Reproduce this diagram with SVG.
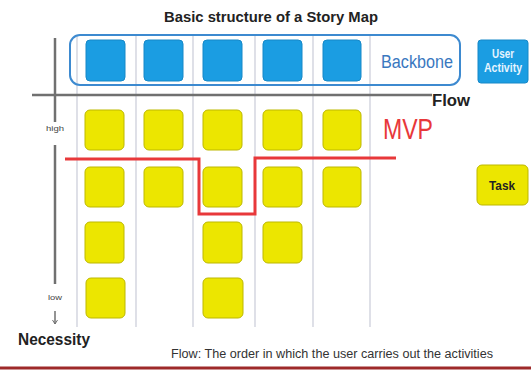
<svg xmlns="http://www.w3.org/2000/svg" width="531" height="370" viewBox="0 0 531 370">
<defs>
<style>
.t{font-family:"Liberation Sans",Arial,sans-serif}
.b{font-weight:bold}
.sep{stroke:#c9cbd8;stroke-width:1.2}
.act{fill:#1b9de2;stroke:#1688c8;stroke-width:1}
.task{fill:#ece600;stroke:#bdb800;stroke-width:1}
.axis{stroke:#707070;stroke-width:2.5;fill:none}
</style>
<marker id="ah" markerWidth="6" markerHeight="6" refX="5" refY="3" orient="auto" markerUnits="userSpaceOnUse">
<path d="M1,0.5 L5,3 L1,5.5" fill="none" stroke="#707070" stroke-width="1"/>
</marker>
</defs>
<rect width="531" height="370" fill="#ffffff"/>
<text class="t b" x="271" y="22" font-size="15" text-anchor="middle" textLength="214" lengthAdjust="spacingAndGlyphs" fill="#222">Basic structure of a Story Map</text>

<g id="separators">
<line class="sep" x1="77" y1="36" x2="77" y2="327"/>
<line class="sep" x1="136" y1="36" x2="136" y2="327"/>
<line class="sep" x1="193" y1="36" x2="193" y2="327"/>
<line class="sep" x1="255" y1="36" x2="255" y2="327"/>
<line class="sep" x1="313" y1="36" x2="313" y2="327"/>
<line class="sep" x1="370" y1="36" x2="370" y2="327"/>
</g>

<g id="backbone">
<rect x="70" y="35" width="390" height="50" rx="10" fill="none" stroke="#3d8ad0" stroke-width="2"/>
<text class="t" x="381" y="68" font-size="18" textLength="72" lengthAdjust="spacingAndGlyphs" fill="#3a78bf">Backbone</text>
</g>

<g id="activities">
<rect class="act" x="86" y="40" width="39" height="41" rx="4"/>
<rect class="act" x="144" y="40" width="39" height="41" rx="4"/>
<rect class="act" x="203" y="40" width="39" height="41" rx="4"/>
<rect class="act" x="263" y="40" width="39" height="41" rx="4"/>
<rect class="act" x="323" y="40" width="38" height="41" rx="4"/>
</g>

<g id="user-activity">
<rect class="act" x="478" y="40" width="50" height="43" rx="3"/>
<text class="t b" x="503" y="58" font-size="12" text-anchor="middle" fill="#e6f4ff" textLength="22" lengthAdjust="spacingAndGlyphs">User</text>
<text class="t b" x="503" y="72" font-size="12" text-anchor="middle" fill="#e6f4ff" textLength="38" lengthAdjust="spacingAndGlyphs">Activity</text>
</g>

<g id="axes">
<line class="axis" x1="32" y1="95" x2="432" y2="95"/>
<line class="axis" x1="55" y1="38" x2="55" y2="122"/>
<line class="axis" x1="55" y1="145" x2="55" y2="284"/>
<line x1="55" y1="311" x2="55" y2="324" stroke="#707070" stroke-width="1.5" marker-end="url(#ah)"/>
<text class="t b" x="432" y="106" font-size="16" textLength="38" lengthAdjust="spacingAndGlyphs" fill="#222">Flow</text>
<text class="t" x="55" y="131" font-size="8" text-anchor="middle" fill="#444" textLength="18" lengthAdjust="spacingAndGlyphs">high</text>
<text class="t" x="55" y="300" font-size="8" text-anchor="middle" fill="#444" textLength="14" lengthAdjust="spacingAndGlyphs">low</text>
<text class="t b" x="18" y="345" font-size="17" textLength="72" lengthAdjust="spacingAndGlyphs" fill="#222">Necessity</text>
</g>

<g id="tasks">
<rect class="task" x="85" y="110" width="39" height="40" rx="5"/>
<rect class="task" x="85" y="167" width="39" height="40" rx="5"/>
<rect class="task" x="85" y="222" width="39" height="41" rx="5"/>
<rect class="task" x="86" y="278" width="39" height="40" rx="5"/>
<rect class="task" x="144" y="110" width="39" height="40" rx="5"/>
<rect class="task" x="144" y="167" width="39" height="40" rx="5"/>
<rect class="task" x="203" y="110" width="39" height="40" rx="5"/>
<rect class="task" x="203" y="167" width="39" height="40" rx="5"/>
<rect class="task" x="203" y="222" width="39" height="41" rx="5"/>
<rect class="task" x="203" y="278" width="40" height="40" rx="5"/>
<rect class="task" x="263" y="110" width="39" height="40" rx="5"/>
<rect class="task" x="263" y="167" width="39" height="40" rx="5"/>
<rect class="task" x="263" y="222" width="39" height="41" rx="5"/>
<rect class="task" x="323" y="110" width="38" height="40" rx="5"/>
<rect class="task" x="323" y="167" width="38" height="40" rx="5"/>
</g>

<g id="mvp">
<polyline points="65,159 199,159 199,214 255,214 255,158 396,158" fill="none" stroke="#e8383a" stroke-width="3"/>
<text class="t" x="383" y="139" font-size="29" textLength="50" lengthAdjust="spacingAndGlyphs" fill="#e8383a">MVP</text>
</g>

<g id="task-legend">
<rect class="task" x="477" y="165" width="51" height="40" rx="5"/>
<text class="t b" x="502" y="190" font-size="12" text-anchor="middle" fill="#222" textLength="26" lengthAdjust="spacingAndGlyphs">Task</text>
</g>

<text class="t" x="171" y="358" font-size="12.5" textLength="322" lengthAdjust="spacingAndGlyphs" fill="#333">Flow: The order in which the user carries out the activities</text>
<line x1="0" y1="368" x2="531" y2="368" stroke="#9e2a2a" stroke-width="3"/>
</svg>
